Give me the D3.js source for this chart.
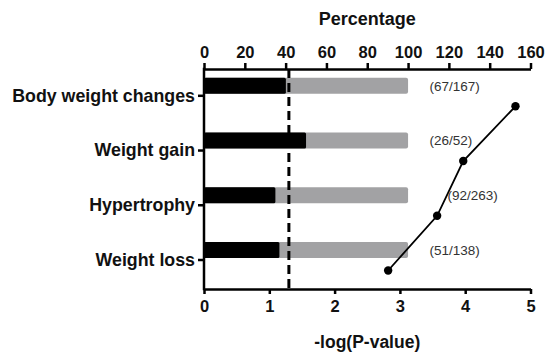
<!DOCTYPE html>
<html>
<head>
<meta charset="utf-8">
<script src="https://cdn.jsdelivr.net/npm/d3@7/dist/d3.min.js"></script>
<style>
  html, body { margin: 0; padding: 0; background: #fff; }
  svg { display: block; }
  .axis text { font-family: "Liberation Sans", Arial, sans-serif; font-weight: bold; fill: #111; }
</style>
</head>
<body>
<svg id="chart" width="545" height="356"></svg>
<script>
// Phenotype categories and their gene counts (hits / total annotated)
const categories = ["Body weight changes", "Weight gain", "Hypertrophy", "Weight loss"];
const hits   = [67, 26, 92, 51];
const totals = [167, 52, 263, 138];
// Enrichment significance, -log10(P)
const negLogP = [4.77, 3.97, 3.57, 2.82];
// Significance threshold, -log10(0.05)
const threshold = 1.3;
const pctTicks = [0, 20, 40, 60, 80, 100, 120, 140, 160];
const pTicks = [0, 1, 2, 3, 4, 5];

const percent = hits.map((h, i) => h / totals[i] * 100);
const countLabels = hits.map((h, i) => `(${h}/${totals[i]})`);

const svg = d3.select("#chart");
const plotLeft = 204, plotRight = 530.5, plotTop = 69, plotBottom = 289;

const xPct = d3.scaleLinear().domain([0, 160]).range([plotLeft, plotRight]);
const xP = d3.scaleLinear().domain([0, 5]).range([plotLeft, plotRight]);
const y = d3.scalePoint().domain(categories).range([95.3, 259.5]);

const barTop = -17.5, barH = 16, dotOffset = 11;
const labelShift = [0, 0, 18, 0];

// Background bars: full 100% of each category
svg.append("g").selectAll("rect")
  .data(categories)
  .join("rect")
  .attr("x", xPct(0))
  .attr("y", d => y(d) + barTop)
  .attr("width", xPct(100) - xPct(0))
  .attr("height", barH)
  .attr("rx", 2)
  .attr("fill", "#a2a2a4");

// Foreground bars: share of genes hit
svg.append("g").selectAll("rect")
  .data(categories)
  .join("rect")
  .attr("x", xPct(0))
  .attr("y", d => y(d) + barTop)
  .attr("width", (d, i) => xPct(percent[i]) - xPct(0))
  .attr("height", barH)
  .attr("rx", 1.5)
  .attr("fill", "#000");

// Count labels
svg.append("g").selectAll("text")
  .data(categories)
  .join("text")
  .attr("x", (d, i) => xPct(110) + 1 + labelShift[i])
  .attr("y", d => y(d) + barTop + barH / 2)
  .attr("dy", "0.36em")
  .attr("font-family", "Liberation Sans, Arial, sans-serif")
  .attr("font-size", 13.5)
  .attr("fill", "#333")
  .text((d, i) => countLabels[i]);

// Threshold line
svg.append("line")
  .attr("x1", xP(threshold)).attr("x2", xP(threshold))
  .attr("y1", plotTop).attr("y2", plotBottom)
  .attr("stroke", "#000")
  .attr("stroke-width", 3)
  .attr("stroke-dasharray", "9,5");

// -log(P) line with markers
const line = d3.line()
  .x((d, i) => xP(negLogP[i]))
  .y(d => y(d) + dotOffset);

svg.append("path")
  .datum(categories)
  .attr("d", line)
  .attr("fill", "none")
  .attr("stroke", "#000")
  .attr("stroke-width", 1.8);

svg.append("g").selectAll("circle")
  .data(categories)
  .join("circle")
  .attr("cx", (d, i) => xP(negLogP[i]))
  .attr("cy", d => y(d) + dotOffset)
  .attr("r", 4.2)
  .attr("fill", "#000");

// Axes
function styleAxis(g) {
  g.selectAll(".domain").attr("stroke", "#000").attr("stroke-width", 2.5);
  g.selectAll(".tick line").attr("stroke", "#000").attr("stroke-width", 2.5);
}

const topAxis = svg.append("g")
  .attr("class", "axis")
  .attr("transform", `translate(0,${plotTop})`)
  .call(d3.axisTop(xPct).tickValues(pctTicks).tickSize(6).tickSizeOuter(0).tickPadding(5))
  .call(styleAxis);
topAxis.selectAll("text").attr("font-size", 16.5);

const bottomAxis = svg.append("g")
  .attr("class", "axis")
  .attr("transform", `translate(0,${plotBottom})`)
  .call(d3.axisBottom(xP).tickValues(pTicks).tickFormat(d3.format("d")).tickSize(5).tickSizeOuter(0).tickPadding(6))
  .call(styleAxis);
bottomAxis.selectAll("text").attr("font-size", 16.5);

const leftAxis = svg.append("g")
  .attr("class", "axis")
  .attr("transform", `translate(${plotLeft},0)`)
  .call(d3.axisLeft(y).tickSize(6).tickSizeOuter(0).tickPadding(3))
  .call(styleAxis);
leftAxis.select(".domain").remove();
leftAxis.selectAll("text").attr("font-size", 17.8);
leftAxis.append("line")
  .attr("y1", plotTop - 1.25).attr("y2", plotBottom + 1.25)
  .attr("stroke", "#000").attr("stroke-width", 2.5);

// Axis titles
svg.append("text")
  .attr("x", (plotLeft + plotRight) / 2).attr("y", 24.5)
  .attr("text-anchor", "middle")
  .attr("font-family", "Liberation Sans, Arial, sans-serif")
  .attr("font-weight", "bold").attr("font-size", 18)
  .attr("fill", "#111")
  .text("Percentage");

svg.append("text")
  .attr("x", (plotLeft + plotRight) / 2).attr("y", 348)
  .attr("text-anchor", "middle")
  .attr("font-family", "Liberation Sans, Arial, sans-serif")
  .attr("font-weight", "bold").attr("font-size", 17.5)
  .attr("fill", "#111")
  .text("-log(P-value)");
</script>
</body>
</html>
